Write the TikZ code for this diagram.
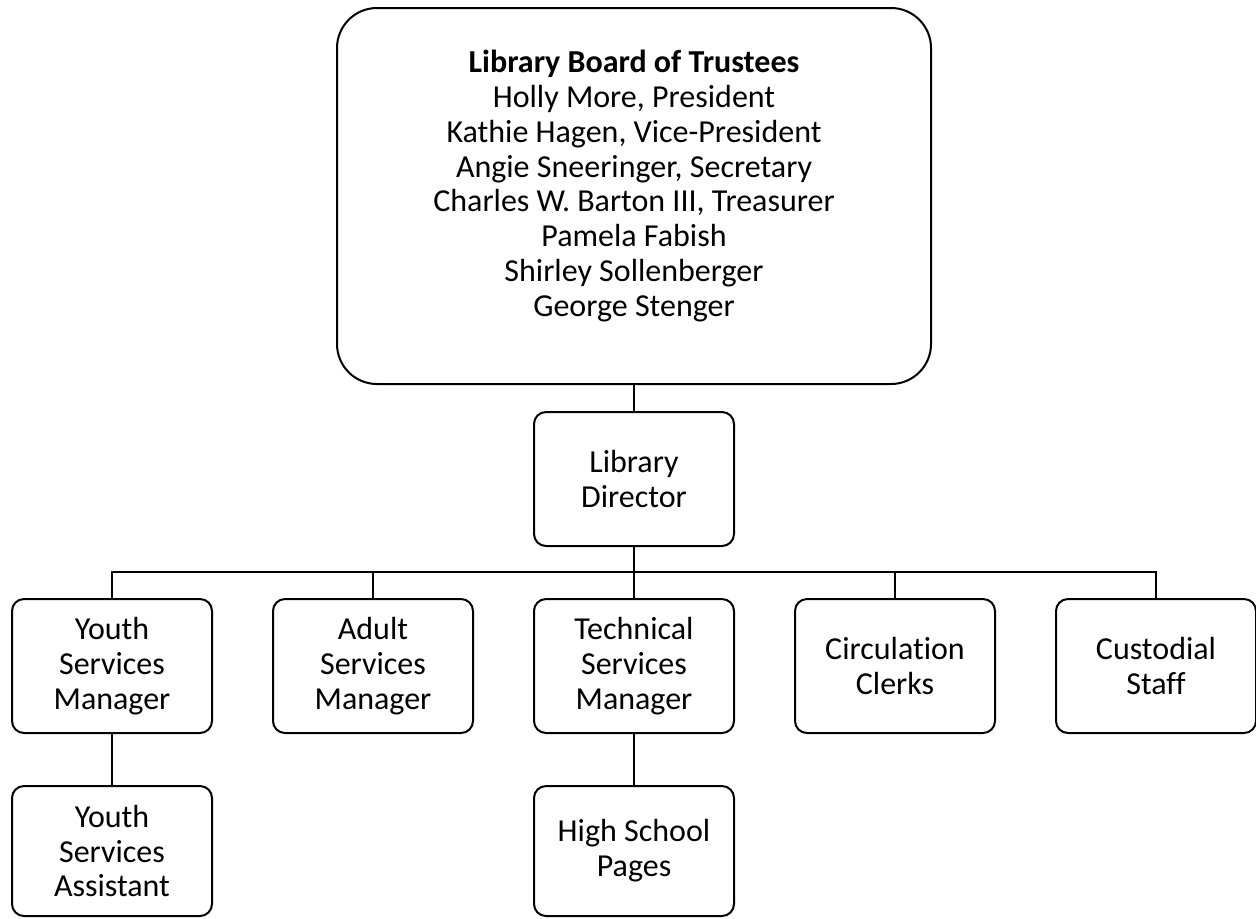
\documentclass[tikz,border=0pt]{standalone}
\usepackage{fontspec}
\setmainfont{Carlito}[Ligatures=NoCommon]
\tikzset{
  box/.style={draw, line width=1pt, rounded corners=6pt, minimum width=100pt,
    minimum height=67pt, align=center, inner sep=2pt,
    font=\fontsize{16}{17.4}\selectfont},
  link/.style={line width=1pt},
}
\begin{document}
\begin{tikzpicture}[x=0.5pt,y=-0.5pt]
\useasboundingbox (0,0) rectangle (1256,918);
\node[box, rounded corners=20pt, minimum width=297pt, minimum height=188pt] (board) at (634,196) {};
\node[align=center, font=\fontsize{16}{17.4}\selectfont] (boardtext) at (634,186)
  {\textbf{Library Board of Trustees}\\Holly More, President\\Kathie Hagen, Vice-President\\
   Angie Sneeringer, Secretary\\Charles W. Barton III, Treasurer\\Pamela Fabish\\
   Shirley Sollenberger\\George Stenger};
\node[box] (director) at (634,479) {Library\\Director};
\node[box] (youth) at (112,666) {Youth\\Services\\Manager};
\node[box] (adult) at (373,666) {Adult\\Services\\Manager};
\node[box] (tech) at (634,666) {Technical\\Services\\Manager};
\node[box] (circ) at (895,666) {Circulation\\Clerks};
\node[box] (cust) at (1156,666) {Custodial\\Staff};
\node[box, minimum height=65pt] (youthasst) at (112,851) {Youth\\Services\\Assistant};
\node[box, minimum height=65pt] (pages) at (634,851) {High School\\Pages};
\coordinate (bus) at (634,572);
\draw[link] (board) -- (director);
\draw[link] (director) -- (bus);
\foreach \n in {youth,adult,tech,circ,cust}
  \draw[link] (bus) -| (\n);
\draw[link] (youth) -- (youthasst);
\draw[link] (tech) -- (pages);
\end{tikzpicture}
\end{document}
